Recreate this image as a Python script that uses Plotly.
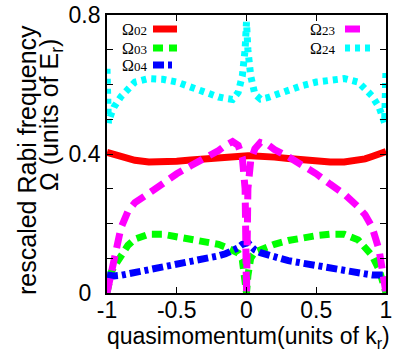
import plotly.graph_objects as go

# quasimomentum grid (units of k_r)
q = [-1, -0.99, -0.97, -0.95, -0.9, -0.85, -0.8, -0.7, -0.6, -0.5, -0.4, -0.3, -0.2, -0.15, -0.1,
     -0.06, -0.03, -0.01, 0, 0.01, 0.03, 0.06, 0.1, 0.15, 0.2, 0.3, 0.4, 0.5, 0.6, 0.7, 0.8,
     0.85, 0.9, 0.95, 0.97, 0.99, 1]

omega02 = [0.405, 0.404, 0.401, 0.398, 0.392, 0.386, 0.382, 0.377, 0.377, 0.379, 0.383, 0.387, 0.391, 0.393, 0.394,
           0.395, 0.395, 0.395, 0.395, 0.395, 0.395, 0.395, 0.394, 0.393, 0.391, 0.387, 0.383, 0.379, 0.377, 0.377, 0.382,
           0.386, 0.393, 0.399, 0.402, 0.405, 0.407]

omega03 = [0.0, 0.03, 0.06, 0.075, 0.105, 0.137, 0.155, 0.169, 0.169, 0.163, 0.157, 0.149, 0.14, 0.132, 0.124,
           0.115, 0.095, 0.05, 0.0, 0.05, 0.1, 0.118, 0.125, 0.132, 0.14, 0.151, 0.16, 0.165, 0.169, 0.169, 0.153,
           0.132, 0.108, 0.068, 0.04, 0.01, 0.0]

omega04 = [0.052, 0.051, 0.05, 0.049, 0.051, 0.055, 0.058, 0.065, 0.072, 0.079, 0.087, 0.096, 0.107, 0.113, 0.121,
           0.13, 0.14, 0.145, 0.147, 0.145, 0.136, 0.124, 0.116, 0.109, 0.103, 0.093, 0.086, 0.078, 0.072, 0.064, 0.058,
           0.055, 0.052, 0.052, 0.052, 0.052, 0.052]

omega23 = [0.0, 0.02, 0.068, 0.106, 0.187, 0.235, 0.26, 0.287, 0.316, 0.343, 0.366, 0.386, 0.41, 0.425, 0.436,
           0.425, 0.39, 0.3, 0.0, 0.3, 0.38, 0.415, 0.433, 0.428, 0.413, 0.392, 0.37, 0.343, 0.313, 0.285, 0.248,
           0.225, 0.19, 0.125, 0.075, 0.02, 0.0]

omega24 = [0.645, 0.49, 0.515, 0.535, 0.565, 0.59, 0.607, 0.617, 0.615, 0.607, 0.592, 0.577, 0.564, 0.56, 0.557,
           0.577, 0.625, 0.7, 0.78, 0.7, 0.625, 0.572, 0.558, 0.562, 0.57, 0.585, 0.597, 0.607, 0.614, 0.617, 0.607,
           0.59, 0.567, 0.535, 0.515, 0.49, 0.645]

y_tickvals = [0, 0.1, 0.2, 0.3, 0.4, 0.5, 0.6, 0.7, 0.8]
y_ticktext = ["0\u2009\u2009", "", "", "", "0.4", "", "", "", "0.8"]
x_tickvals = [-1, -0.5, 0, 0.5, 1]
x_ticktext = ["-1", "-0.5", "0", "0.5", "1"]

series = [
    ("02", omega02, "#ff0000", "solid"),
    ("03", omega03, "#00ff00", "10px,6px"),
    ("04", omega04, "#0000ff", "11px,4px,4px,4px"),
    ("23", omega23, "#ff00ff", "15px,8px"),
    ("24", omega24, "#00ffff", "5px,5px"),
]

fig = go.Figure()
for name, vals, color, dash in series:
    fig.add_trace(go.Scatter(x=q, y=vals, mode="lines", name="Ω" + name,
                             line=dict(color=color, width=7, dash=dash), showlegend=False))

L, R, T, B = 107, 13, 15, 63
W, H = 399, 356
pw, ph = W - L - R, H - T - B

def px2paper(px, py):
    return (px - L) / pw, (H - B - py) / ph

annotations = []
shapes = []
legend_items = [
    ("02", "#ff0000", "solid", 120, 29, 153, 177),
    ("03", "#00ff00", "10px,6px", 120, 48, 153, 177),
    ("04", "#0000ff", "11px,4px,4px,4px", 120, 65, 153, 172),
    ("23", "#ff00ff", "15px,8px", 308, 29, 345, 360),
    ("24", "#00ffff", "5px,5px", 308, 48, 345, 371),
]
for name, color, dash, tx, ty, s0, s1 in legend_items:
    ax, ay = px2paper(tx, ty)
    annotations.append(dict(x=ax, y=ay, xref="paper", yref="paper", xanchor="left", yanchor="middle",
                            text="Ω<span style='font-size:13px'>" + name + "</span>", showarrow=False,
                            font=dict(family="Liberation Serif", size=16, color="black")))
    x0, yy = px2paper(s0, ty)
    x1, _ = px2paper(s1, ty)
    shapes.append(dict(type="line", xref="paper", yref="paper", x0=x0, x1=x1, y0=yy, y1=yy,
                       line=dict(color=color, width=7, dash=dash)))

# axis titles
ax1, ay1 = px2paper(27, 160)
ax2, ay2 = px2paper(51, 115)
axx, ayx = px2paper(248, 337)
annotations.append(dict(x=ax1, y=ay1, xref="paper", yref="paper", xanchor="center", yanchor="middle",
                        text="rescaled Rabi frequency", textangle=-90, showarrow=False,
                        font=dict(family="Liberation Sans", size=25, color="black")))
annotations.append(dict(x=ax2, y=ay2, xref="paper", yref="paper", xanchor="center", yanchor="middle",
                        text="Ω (units of E<sub>r</sub>)", textangle=-90, showarrow=False,
                        font=dict(family="Liberation Sans", size=25, color="black")))
annotations.append(dict(x=axx, y=ayx, xref="paper", yref="paper", xanchor="center", yanchor="middle",
                        text="quasimomentum(units of k<sub>r</sub>)", showarrow=False,
                        font=dict(family="Liberation Sans", size=23, color="black")))

fig.update_layout(
    width=W, height=H,
    margin=dict(l=L, r=R, t=T, b=B),
    paper_bgcolor="white", plot_bgcolor="white",
    annotations=annotations, shapes=shapes,
    xaxis=dict(range=[-1, 1], tickvals=x_tickvals, ticktext=x_ticktext, ticks="inside", ticklen=6,
               tickcolor="black", showline=True, linecolor="black", linewidth=1.8, mirror="allticks",
               showgrid=False, zeroline=False, automargin=False, ticklabelstandoff=-5,
               tickfont=dict(family="Liberation Sans", size=23, color="black")),
    yaxis=dict(range=[0, 0.8], tickvals=y_tickvals, ticktext=y_ticktext, ticks="inside", ticklen=6,
               tickcolor="black", showline=True, linecolor="black", linewidth=1.8, mirror="allticks",
               showgrid=False, zeroline=False, automargin=False,
               tickfont=dict(family="Liberation Sans", size=23, color="black")),
)

fig.write_html("out.html", config={"displayModeBar": False},
               post_script="document.body.style.margin='0';document.body.style.overflow='hidden';")
